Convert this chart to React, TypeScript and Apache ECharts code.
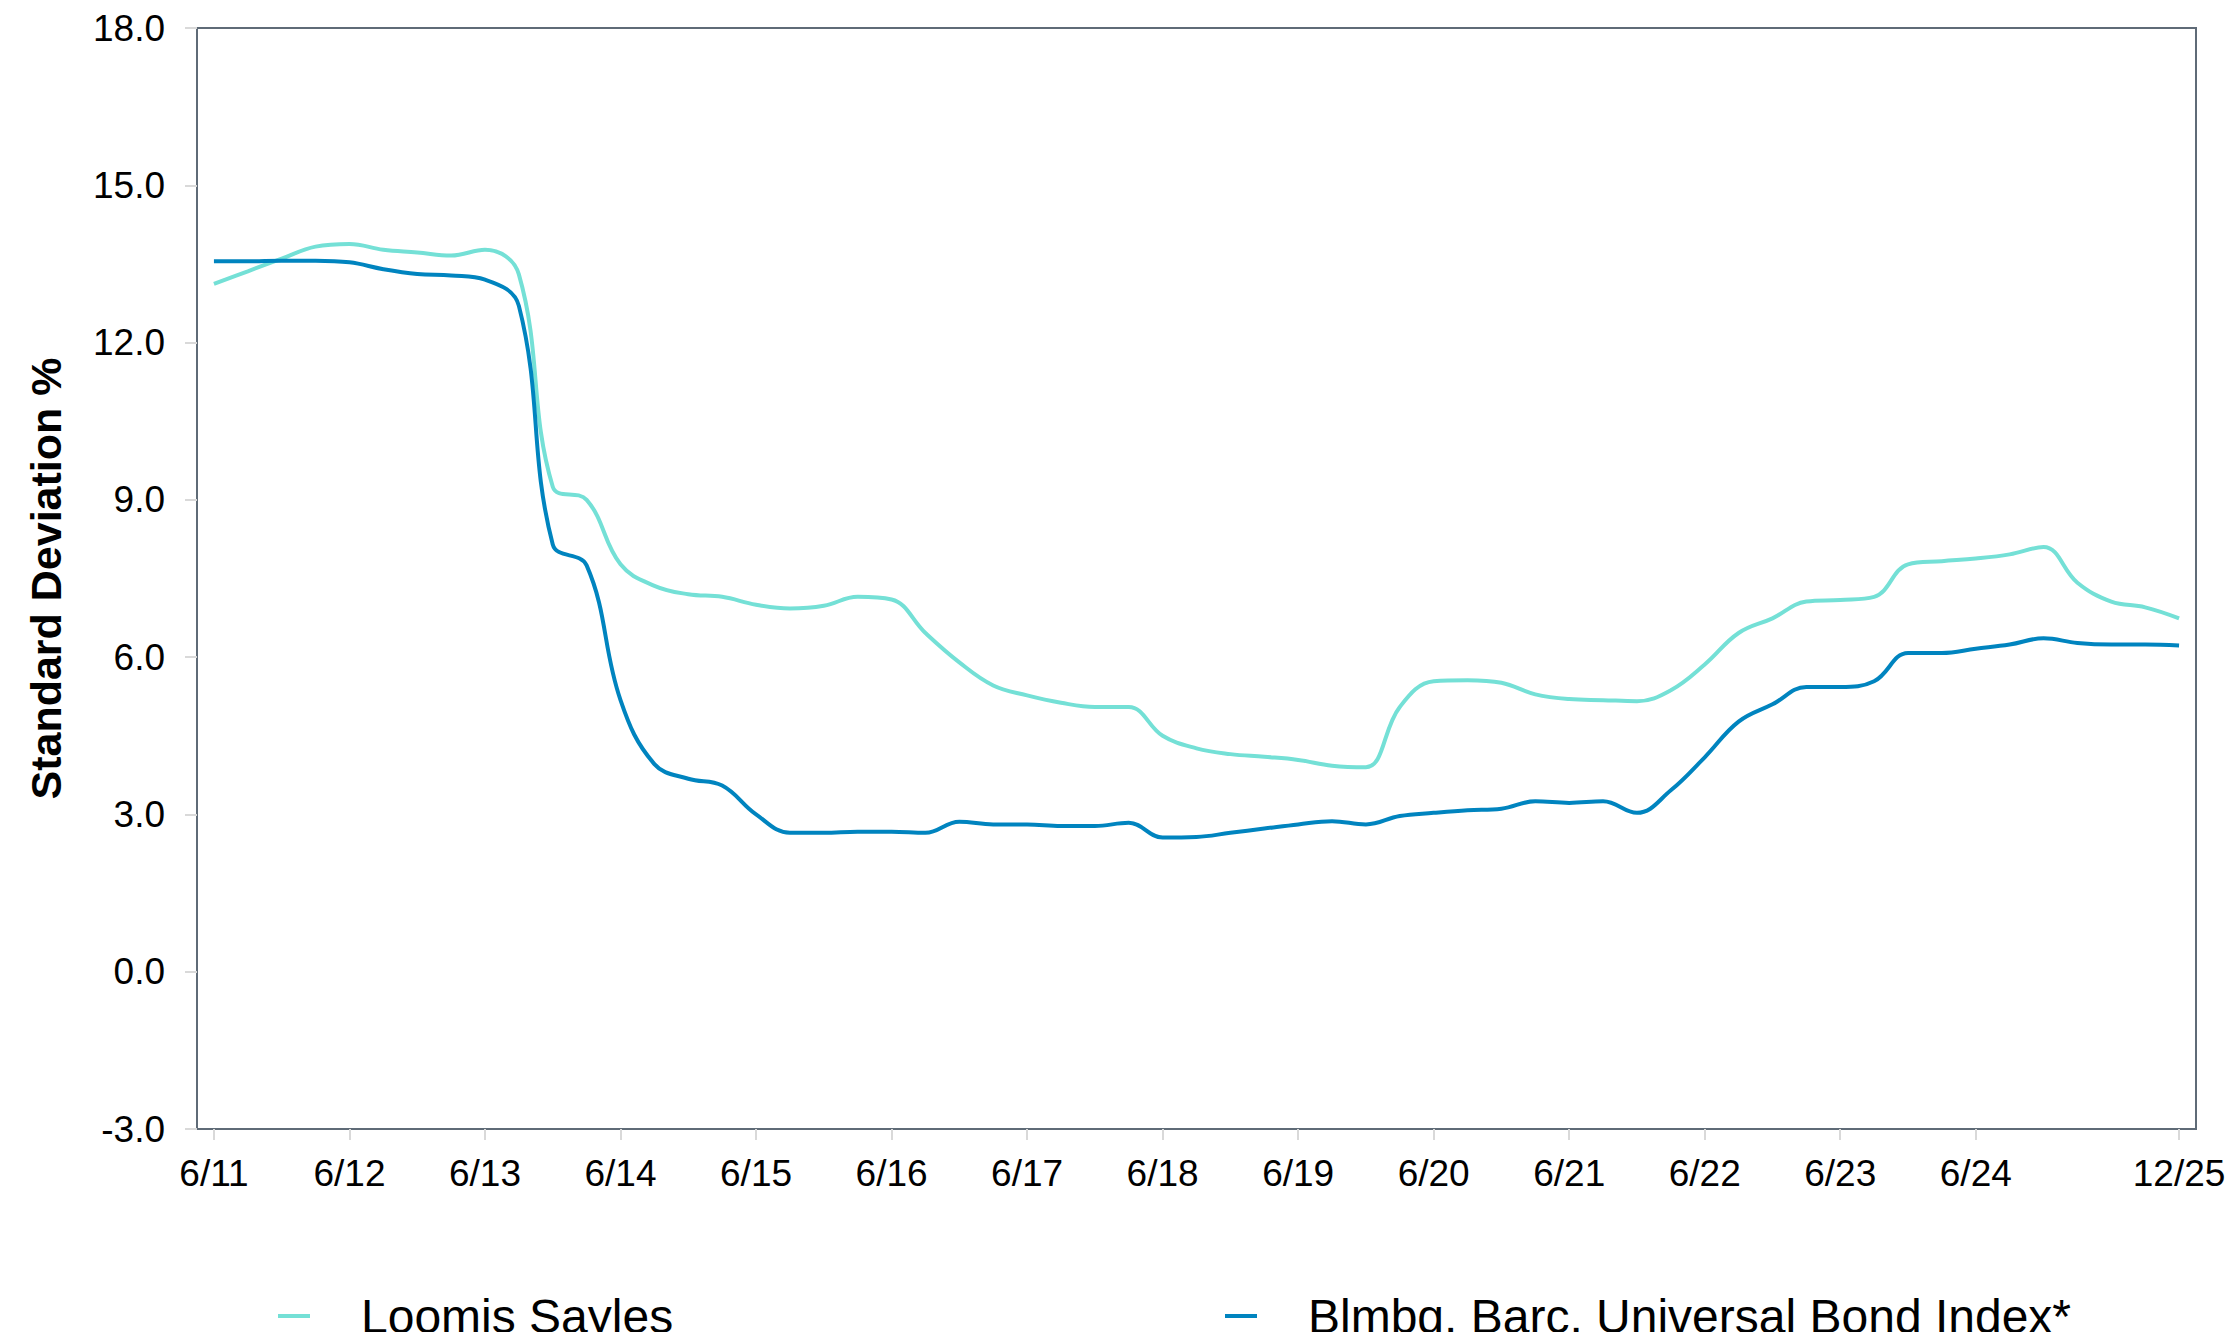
import React, { useEffect, useRef } from "react";
import * as echarts from "echarts";

const categories = [
  "6/11", "9/11", "12/11", "3/12",
  "6/12", "9/12", "12/12", "3/13",
  "6/13", "9/13", "12/13", "3/14",
  "6/14", "9/14", "12/14", "3/15",
  "6/15", "9/15", "12/15", "3/16",
  "6/16", "9/16", "12/16", "3/17",
  "6/17", "9/17", "12/17", "3/18",
  "6/18", "9/18", "12/18", "3/19",
  "6/19", "9/19", "12/19", "3/20",
  "6/20", "9/20", "12/20", "3/21",
  "6/21", "9/21", "12/21", "3/22",
  "6/22", "9/22", "12/22", "3/23",
  "6/23", "9/23", "12/23", "3/24",
  "6/24", "9/24", "12/24", "3/25",
  "6/25", "9/25", "12/25",
];

const loomisSayles = [
  13.12, 13.36, 13.6, 13.83,
  13.88, 13.77, 13.72, 13.66,
  13.77, 13.3, 9.25, 9.0,
  7.77, 7.36, 7.2, 7.15,
  7.0, 6.93, 6.98, 7.15,
  7.1, 6.46, 5.9, 5.46,
  5.27, 5.13, 5.05, 5.05,
  4.5, 4.26, 4.15, 4.1,
  4.04, 3.93, 3.9, 5.05,
  5.54, 5.56, 5.51, 5.29,
  5.2, 5.18, 5.16, 5.37,
  5.86, 6.46, 6.74, 7.06,
  7.09, 7.15, 7.77, 7.83,
  7.88, 7.96, 8.1, 7.42,
  7.06, 6.95, 6.74,
];

const bondIndex = [
  13.55, 13.55, 13.56, 13.56,
  13.53, 13.4, 13.31, 13.28,
  13.2, 12.7, 8.15, 7.75,
  5.18, 3.96, 3.68, 3.55,
  3.0, 2.65, 2.65, 2.67,
  2.67, 2.65, 2.86, 2.81,
  2.81, 2.78, 2.78, 2.84,
  2.56, 2.57, 2.65, 2.73,
  2.81, 2.87, 2.81, 2.97,
  3.03, 3.08, 3.11, 3.25,
  3.22, 3.25, 3.03, 3.46,
  4.09, 4.77, 5.1, 5.43,
  5.43, 5.54, 6.08, 6.08,
  6.16, 6.24, 6.36, 6.27,
  6.24, 6.24, 6.22,
];

const seriesNames = ["Loomis Sayles", "Blmbg. Barc. Universal Bond Index*"];
const seriesColors = ["#74E0D6", "#0084BF"];
const yTicks = { min: -3, max: 18, interval: 3 };

const showCat = (idx: number) =>
  (idx % 4 === 0 && idx < categories.length - 3) || idx === categories.length - 1;

export default function App() {
  const ref = useRef<HTMLDivElement>(null);

  useEffect(() => {
    if (!ref.current) return;
    const chart = echarts.init(ref.current, undefined, { renderer: "svg" });
    const font = "'Liberation Sans', Arial, Helvetica, sans-serif";
    const legendBase = {
      orient: "horizontal",
      top: 1287,
      icon: "rect",
      itemWidth: 32,
      itemHeight: 4,
      textStyle: {
        fontFamily: font,
        fontSize: 48,
        color: "#000",
        padding: [0, 0, 0, 46],
      },
    };
    chart.setOption({
      animation: false,
      backgroundColor: "#fff",
      grid: {
        left: 197,
        right: 42,
        top: 28,
        bottom: 211,
        show: true,
        borderColor: "#5F6B77",
        borderWidth: 2,
        containLabel: false,
      },
      legend: [
        { ...legendBase, left: 273, data: [seriesNames[0]] },
        { ...legendBase, left: 1220, data: [seriesNames[1]] },
      ],
      xAxis: {
        type: "category",
        data: categories,
        boundaryGap: true,
        axisLine: { show: true, onZero: false, lineStyle: { color: "#5F6B77", width: 2 } },
        axisTick: {
          show: true,
          alignWithLabel: true,
          length: 11,
          interval: (idx: number) => showCat(idx),
          lineStyle: { color: "#D9D9D9", width: 2 },
        },
        axisLabel: {
          interval: (idx: number) => showCat(idx),
          margin: 26,
          fontFamily: font,
          fontSize: 37,
          color: "#000",
        },
        splitLine: { show: false },
      },
      yAxis: {
        type: "value",
        min: yTicks.min,
        max: yTicks.max,
        interval: yTicks.interval,
        name: "Standard Deviation %",
        nameLocation: "middle",
        nameGap: 130,
        nameTextStyle: {
          fontFamily: font,
          fontSize: 43,
          fontWeight: "bold",
          color: "#000",
        },
        axisLine: { show: true, lineStyle: { color: "#5F6B77", width: 2 } },
        axisTick: { show: true, length: 12, lineStyle: { color: "#D9D9D9", width: 2 } },
        axisLabel: {
          margin: 32,
          fontFamily: font,
          fontSize: 37,
          color: "#000",
          formatter: (v: number) => v.toFixed(1),
        },
        splitLine: { show: false },
      },
      series: [
        {
          name: seriesNames[0],
          type: "line",
          data: loomisSayles,
          smooth: 0.4,
          symbol: "none",
          lineStyle: { color: seriesColors[0], width: 4 },
          itemStyle: { color: seriesColors[0] },
        },
        {
          name: seriesNames[1],
          type: "line",
          data: bondIndex,
          smooth: 0.4,
          symbol: "none",
          lineStyle: { color: seriesColors[1], width: 4 },
          itemStyle: { color: seriesColors[1] },
        },
      ],
    });
    return () => chart.dispose();
  }, []);

  return <div ref={ref} style={{ width: 2238, height: 1340, margin: -8 }} />;
}
